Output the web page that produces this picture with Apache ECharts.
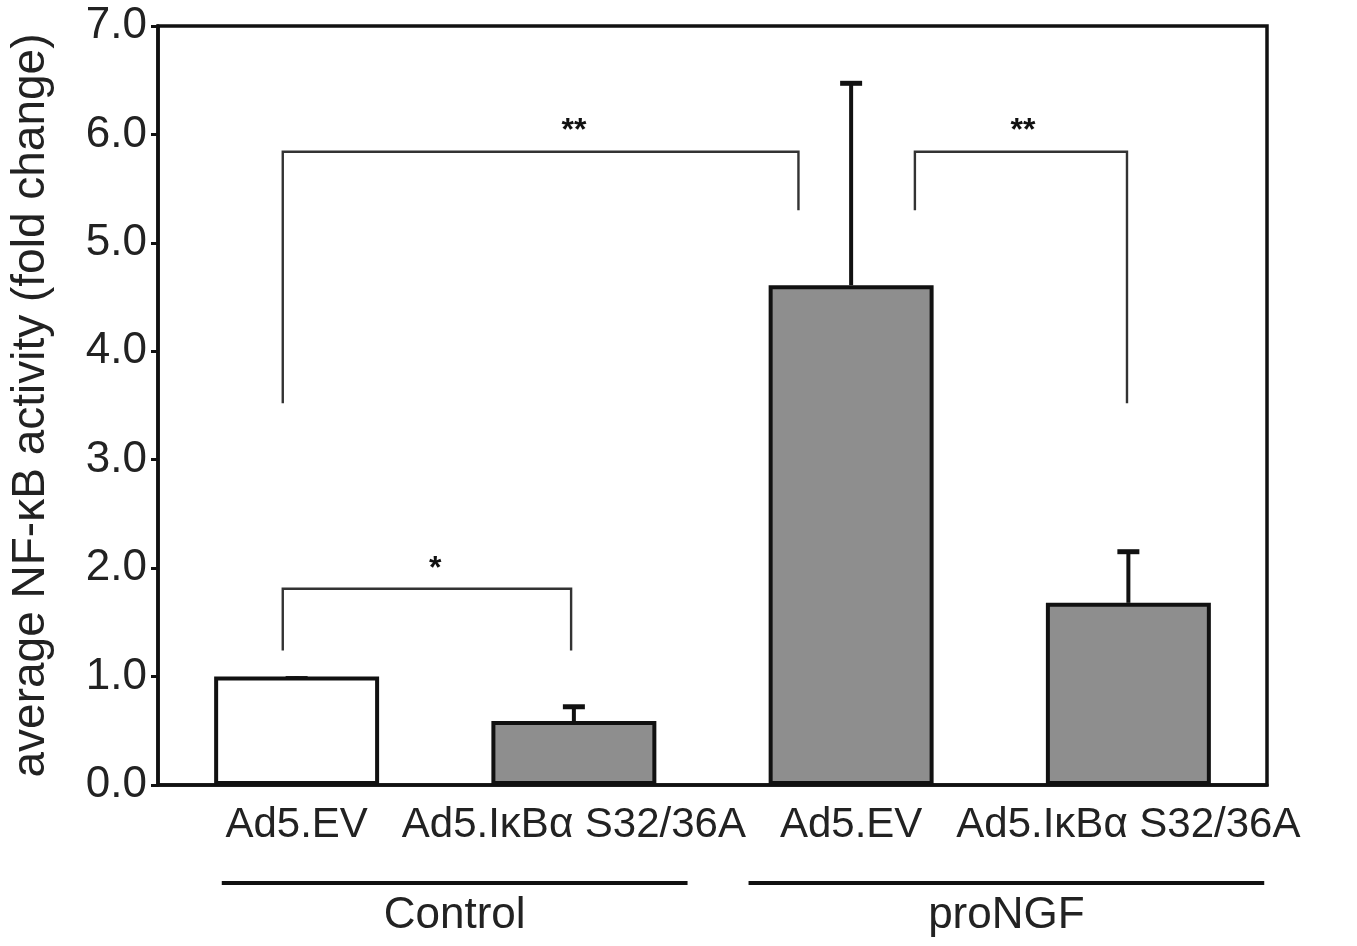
<!DOCTYPE html>
<html><head><meta charset="utf-8">
<script src="https://cdn.jsdelivr.net/npm/echarts@6/dist/echarts.min.js"></script>
<style>html,body{margin:0;padding:0;background:#fff}#c{width:1357px;height:946px}</style>
</head><body><div id="c"></div>
<script>
// ---- data ----
const categories = ['Ad5.EV', 'Ad5.I\u03BAB\u03B1 S32/36A', 'Ad5.EV', 'Ad5.I\u03BAB\u03B1 S32/36A'];
const means = [1.0, 0.59, 4.61, 1.68];
const errUpper = [1.0, 0.74, 6.49, 2.17];
const barFills = ['#ffffff', '#8e8e8e', '#8e8e8e', '#8e8e8e'];
const yTicks = [0, 1, 2, 3, 4, 5, 6, 7];
// brackets: [xLeft, xRight, yLeftEnd, yTop, yRightEnd] in category units / y units
const bracketX1 = [-0.05, -0.05, 2.23];
const bracketX2 = [0.99, 1.81, 2.995];
const bracketYL = [1.24, 3.52, 5.3];
const bracketYTop = [1.81, 5.84, 5.84];
const bracketYR = [1.24, 5.3, 3.52];
const starLabels = ['*', '**', '**'];
const starX = [0.5, 1.0, 2.62];
const starY = [1.99, 6.03, 6.03];
// groups below the axis
const groupNames = ['Control', 'proNGF'];
const groupStart = [-0.27, 1.63];
const groupEnd = [1.41, 3.49];

const chart = echarts.init(document.getElementById('c'), null, {renderer: 'canvas'});
const font = 'Liberation Sans, Arial, Helvetica, sans-serif';

const option = {
  backgroundColor: '#fff',
  animation: false,
  grid: {left: 157, right: 90, top: 26, bottom: 161, show: true, borderColor: '#111', borderWidth: 3.5, backgroundColor: 'transparent'},
  xAxis: [
    {type: 'category', data: categories, boundaryGap: true,
     axisLine: {onZero: false, lineStyle: {color: '#111', width: 3.5}}, axisTick: {show: false},
     axisLabel: {color: '#222', fontFamily: font, fontSize: 42, margin: 19, interval: 0}},
    {type: 'value', min: -0.5, max: 3.5, show: false}
  ],
  yAxis: {
    type: 'value', min: 0, max: 7, interval: 1,
    name: 'average NF-\u03BAB activity (fold change)', nameLocation: 'middle', nameGap: 104,
    nameTextStyle: {color: '#222', fontFamily: font, fontSize: 46},
    axisLine: {show: true, onZero: false, lineStyle: {color: '#111', width: 3.5}},
    axisTick: {show: true, inside: false, length: 7, lineStyle: {color: '#111', width: 3}},
    axisLabel: {color: '#222', fontFamily: font, fontSize: 44, margin: 11, formatter: v => v.toFixed(1)},
    splitLine: {show: false}
  },
  series: [
    {type: 'bar', xAxisIndex: 0, barWidth: '59.5%', z: 2,
     data: means.map((v, i) => ({value: v, itemStyle: {color: barFills[i], borderColor: '#111', borderWidth: 4}}))},
    {type: 'custom', xAxisIndex: 0, z: 1,
     data: means.map((v, i) => [i, v, errUpper[i]]),
     renderItem: function (params, api) {
       const base = api.coord([api.value(0), api.value(1)]);
       const top = api.coord([api.value(0), api.value(2)]);
       const hw = 11;
       return {type: 'group', children: [
         {type: 'line', shape: {x1: base[0], y1: base[1], x2: top[0], y2: top[1] + 2}, style: {stroke: '#111', lineWidth: 4}},
         {type: 'line', shape: {x1: top[0] - hw, y1: top[1] + 2, x2: top[0] + hw, y2: top[1] + 2}, style: {stroke: '#111', lineWidth: 5}}
       ]};
     }},
    {type: 'custom', xAxisIndex: 1, z: 3,
     data: bracketX1.map((x, i) => [x, bracketX2[i], bracketYL[i], bracketYTop[i], bracketYR[i], starX[i], starY[i]]),
     renderItem: function (params, api) {
       const i = params.dataIndex;
       const p1 = api.coord([api.value(0), api.value(2)]);
       const p2 = api.coord([api.value(0), api.value(3)]);
       const p3 = api.coord([api.value(1), api.value(3)]);
       const p4 = api.coord([api.value(1), api.value(4)]);
       const s = api.coord([api.value(5), api.value(6)]);
       return {type: 'group', children: [
         {type: 'polyline', shape: {points: [p1, p2, p3, p4]}, style: {stroke: '#333', lineWidth: 2.4, fill: null}},
         {type: 'text', x: s[0], y: s[1], style: {text: starLabels[i], fill: '#111', font: 'bold 32px ' + font, align: 'center', verticalAlign: 'middle'}}
       ]};
     }},
    {type: 'custom', xAxisIndex: 1, z: 3, clip: false,
     data: groupStart.map((x, i) => [x, groupEnd[i]]),
     renderItem: function (params, api) {
       const i = params.dataIndex;
       const a = api.coord([api.value(0), 0]);
       const b = api.coord([api.value(1), 0]);
       const y = a[1] + 98;
       return {type: 'group', children: [
         {type: 'line', shape: {x1: a[0], y1: y, x2: b[0], y2: y}, style: {stroke: '#111', lineWidth: 4}},
         {type: 'text', x: (a[0] + b[0]) / 2, y: y + 33, style: {text: groupNames[i], fill: '#222', font: '44px ' + font, align: 'center', verticalAlign: 'middle'}}
       ]};
     }}
  ]
};
chart.setOption(option);
</script></body></html>
